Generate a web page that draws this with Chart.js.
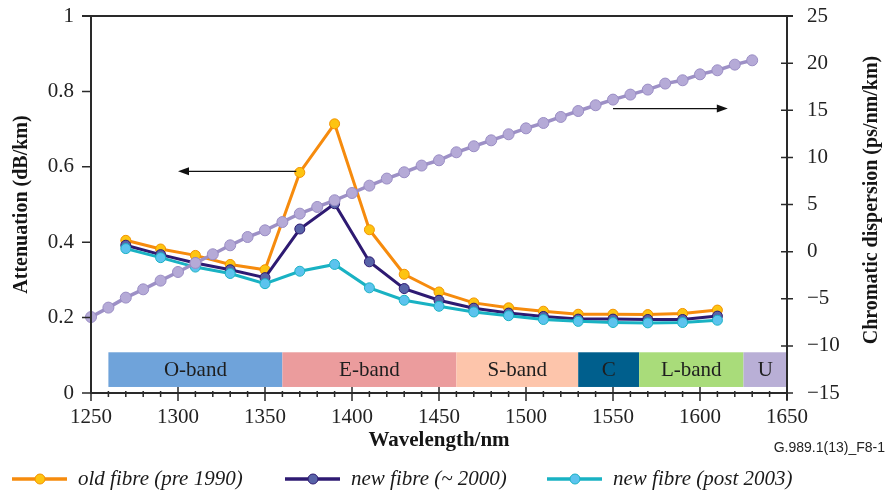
<!DOCTYPE html>
<html><head><meta charset="utf-8">
<script src="https://cdn.jsdelivr.net/npm/chart.js@4/dist/chart.umd.min.js"></script>
<style>html,body{margin:0;padding:0;background:#fff;}#wrap{width:888px;height:491px;}</style>
</head><body><div id="wrap"><canvas id="c" width="888" height="491"></canvas></div>
<script>
// ---- data ----
const wavelengths = [1270,1290,1310,1330,1350,1370,1390,1410,1430,1450,1470,1490,1510,1530,1550,1570,1590,1610];
const oldFibre     = [0.405,0.382,0.365,0.341,0.327,0.585,0.714,0.433,0.315,0.268,0.239,0.226,0.217,0.209,0.209,0.208,0.211,0.220];
const newFibre2000 = [0.392,0.367,0.345,0.327,0.306,0.435,0.502,0.348,0.277,0.246,0.225,0.212,0.203,0.196,0.196,0.195,0.195,0.204];
const newFibre2003 = [0.383,0.359,0.334,0.317,0.290,0.323,0.341,0.279,0.246,0.230,0.215,0.205,0.195,0.190,0.187,0.186,0.187,0.193];
const dispersionWavelengths = [1250,1260,1270,1280,1290,1300,1310,1320,1330,1340,1350,1360,1370,1380,1390,1400,1410,1420,1430,1440,1450,1460,1470,1480,1490,1500,1510,1520,1530,1540,1550,1560,1570,1580,1590,1600,1610,1620,1630];
const dispersion = [-6.94,-5.94,-4.88,-4.0,-3.08,-2.16,-1.2,-0.28,0.67,1.55,2.26,3.14,4.03,4.74,5.45,6.22,7.0,7.75,8.42,9.13,9.69,10.54,11.18,11.81,12.45,13.08,13.65,14.29,14.92,15.53,16.13,16.66,17.19,17.83,18.18,18.81,19.24,19.84,20.3];
const xTicks = [1250,1300,1350,1400,1450,1500,1550,1600,1650];
const attenuationTicks = [0,0.2,0.4,0.6,0.8,1];
const dispersionTicks = [-15,-10,-5,0,5,10,15,20,25];
const bandNames  = ['O-band','E-band','S-band','C','L-band','U'];
const bandStarts = [1260,1360,1460,1530,1565,1625];
const bandEnds   = [1360,1460,1530,1565,1625,1675];
const seriesLabels = ['old fibre (pre 1990)','new fibre (~ 2000)','new fibre (post 2003)'];

// ---- styles ----
const bandColors = ['#6fa3da','#eb9c9d','#fdc5ab','#005f8d','#a9dc7a','#b9afd6'];
const bandTopVal = 0.108, bandBotVal = 0.016;
const serif = '"Liberation Serif", "Times New Roman", serif';
const seriesStyles = [
  {line:'#f68b0d', fill:'#fdc411', border:'#f39200'},
  {line:'#2e1a72', fill:'#5863a8', border:'#2e1a72'},
  {line:'#19b2c3', fill:'#5cc3ee', border:'#19b2c3'}
];
const dispStyle = {line:'#9d90c6', fill:'#b5aad7', border:'#9a8dc4'};
// annotation arrows (in axis units)
const leftArrow = {from:1368, to:1300, y:0.588};
const rightArrow = {from:1550, to:1616, y:15.18};

function pts(xs, ys){ return xs.map((v,i)=>({x:v,y:ys[i]})); }

const overlay = {
  id:'overlay',
  beforeDatasetsDraw(chart){
    const {ctx, chartArea, scales:{x,y}} = chart;
    const yTop = y.getPixelForValue(bandTopVal), yBot = y.getPixelForValue(bandBotVal);
    ctx.save();
    bandNames.forEach((n,i)=>{
      const x0 = x.getPixelForValue(bandStarts[i]);
      const x1 = Math.min(x.getPixelForValue(bandEnds[i]), chartArea.right);
      ctx.fillStyle = bandColors[i];
      ctx.fillRect(x0, yTop, x1-x0, yBot-yTop);
      ctx.fillStyle = '#1e1e1e';
      ctx.font = '21px ' + serif;
      ctx.textAlign = 'center'; ctx.textBaseline = 'middle';
      ctx.fillText(n, (x0+x1)/2, (yTop+yBot)/2 + 1);
    });
    ctx.restore();
  },
  afterDraw(chart){
    const {ctx, chartArea:a, scales:{x,y,y1}} = chart;
    ctx.save();
    ctx.strokeStyle = '#2a2a2a';
    ctx.lineWidth = 2;
    ctx.beginPath();
    ctx.moveTo(a.left, a.top); ctx.lineTo(a.left, a.bottom + 1);
    ctx.moveTo(a.left - 1, a.bottom); ctx.lineTo(a.right + 1, a.bottom);
    ctx.moveTo(a.right, a.top); ctx.lineTo(a.right, a.bottom + 7);
    ctx.moveTo(a.left - 9, a.top); ctx.lineTo(a.right + 6, a.top);
    ctx.stroke();
    ctx.lineWidth = 1.5;
    ctx.beginPath();
    attenuationTicks.forEach(v=>{ const py = y.getPixelForValue(v); ctx.moveTo(a.left-9, py); ctx.lineTo(a.left, py); });
    dispersionTicks.forEach(v=>{ const py = y1.getPixelForValue(v); ctx.moveTo(a.right-6, py); ctx.lineTo(a.right+6, py); });
    for (let v = 1250; v <= 1650; v += 10) {
      const px = x.getPixelForValue(v);
      if (v % 50 === 0) { ctx.moveTo(px, a.bottom-6); ctx.lineTo(px, a.bottom+8); }
      else { ctx.moveTo(px, a.bottom-2); ctx.lineTo(px, a.bottom+4); }
    }
    ctx.stroke();
    ctx.strokeStyle = '#111'; ctx.fillStyle = '#111'; ctx.lineWidth = 1.2;
    function arrow(x0, x1, py){
      const dir = Math.sign(x1 - x0);
      ctx.beginPath(); ctx.moveTo(x0, py); ctx.lineTo(x1 - dir*8, py); ctx.stroke();
      ctx.beginPath(); ctx.moveTo(x1, py); ctx.lineTo(x1 - dir*11, py-4); ctx.lineTo(x1 - dir*11, py+4); ctx.closePath(); ctx.fill();
    }
    arrow(x.getPixelForValue(leftArrow.from), x.getPixelForValue(leftArrow.to), y.getPixelForValue(leftArrow.y));
    arrow(x.getPixelForValue(rightArrow.from), x.getPixelForValue(rightArrow.to), y1.getPixelForValue(rightArrow.y));
    ctx.fillStyle = '#151515';
    ctx.textAlign = 'center'; ctx.textBaseline = 'middle';
    ctx.font = 'bold 21px ' + serif;
    ctx.fillText('Wavelength/nm', (a.left + a.right)/2, 441);
    ctx.font = 'bold 20px ' + serif;
    ctx.save(); ctx.translate(22, (a.top + a.bottom)/2); ctx.rotate(-Math.PI/2);
    ctx.fillText('Attenuation (dB/km)', 0, 0); ctx.restore();
    ctx.save(); ctx.translate(872, 200); ctx.rotate(-Math.PI/2);
    ctx.fillText('Chromatic dispersion (ps/nm/km)', 0, 0); ctx.restore();
    ctx.font = '14px "Liberation Sans", Arial, sans-serif';
    ctx.textAlign = 'right'; ctx.fillStyle = '#222';
    ctx.fillText('G.989.1(13)_F8-1', 885, 448);
    const lx = [12, 285, 547], ly = 479;
    seriesLabels.forEach((t,i)=>{
      const s = seriesStyles[i];
      ctx.strokeStyle = s.line; ctx.lineWidth = 3.5;
      ctx.beginPath(); ctx.moveTo(lx[i], ly); ctx.lineTo(lx[i]+55, ly); ctx.stroke();
      ctx.beginPath(); ctx.arc(lx[i]+28, ly, 5, 0, Math.PI*2);
      ctx.fillStyle = s.fill; ctx.fill(); ctx.lineWidth = 1; ctx.strokeStyle = s.border; ctx.stroke();
      ctx.fillStyle = '#1a1a1a'; ctx.font = 'italic 21px ' + serif;
      ctx.textAlign = 'left'; ctx.textBaseline = 'middle';
      ctx.fillText(t, lx[i]+66, ly);
    });
    ctx.restore();
  }
};

function ds(label, xs, ys, st, axis, order, r, lw){
  return {label, data: pts(xs, ys), yAxisID: axis, order,
    borderColor: st.line, backgroundColor: st.fill, borderWidth: lw,
    pointRadius: r, pointHoverRadius: r, pointBackgroundColor: st.fill,
    pointBorderColor: st.border, pointBorderWidth: 1, tension: 0, clip: false, fill: false};
}

const tickFont = {family: serif, size: 21};
function noPadV(s){ s.paddingTop = 0; s.paddingBottom = 0; }
new Chart(document.getElementById('c'), {
  type: 'line',
  data: { datasets: [
    ds('Chromatic dispersion', dispersionWavelengths, dispersion, dispStyle, 'y1', 0, 5.5, 3.5),
    ds(seriesLabels[2], wavelengths, newFibre2003, seriesStyles[2], 'y', 1, 5, 3),
    ds(seriesLabels[1], wavelengths, newFibre2000, seriesStyles[1], 'y', 2, 5, 3),
    ds(seriesLabels[0], wavelengths, oldFibre, seriesStyles[0], 'y', 3, 5, 3)
  ]},
  options: {
    responsive: false, animation: false, devicePixelRatio: 1,
    layout: {padding: {top: 16, left: 0, right: 0, bottom: 0}},
    plugins: {legend: {display: false}, tooltip: {enabled: false}},
    events: [],
    scales: {
      x: {type: 'linear', min: 1250, max: 1650,
        afterBuildTicks: s => { s.ticks = xTicks.map(v=>({value:v})); },
        afterFit: s => { s.height = 98; s.paddingLeft = 0; s.paddingRight = 0; },
        grid: {display: false, drawTicks: false}, border: {display: false},
        ticks: {font: tickFont, color: '#222', padding: 12, maxRotation: 0, autoSkip: false, callback: v => String(v)}},
      y: {position: 'left', min: 0, max: 1,
        afterBuildTicks: s => { s.ticks = attenuationTicks.map(v=>({value:v})); },
        afterFit: s => { s.width = 91; noPadV(s); },
        grid: {display: false, drawTicks: false}, border: {display: false},
        ticks: {font: tickFont, color: '#222', padding: 17, callback: v => String(v)}},
      y1: {position: 'right', min: -15, max: 25,
        afterBuildTicks: s => { s.ticks = dispersionTicks.map(v=>({value:v})); },
        afterFit: s => { s.width = 101; noPadV(s); },
        grid: {display: false, drawTicks: false}, border: {display: false},
        ticks: {font: tickFont, color: '#222', padding: 20, callback: v => String(v).replace('-', '\u2212')}}
    }
  },
  plugins: [overlay]
});
</script></body></html>
